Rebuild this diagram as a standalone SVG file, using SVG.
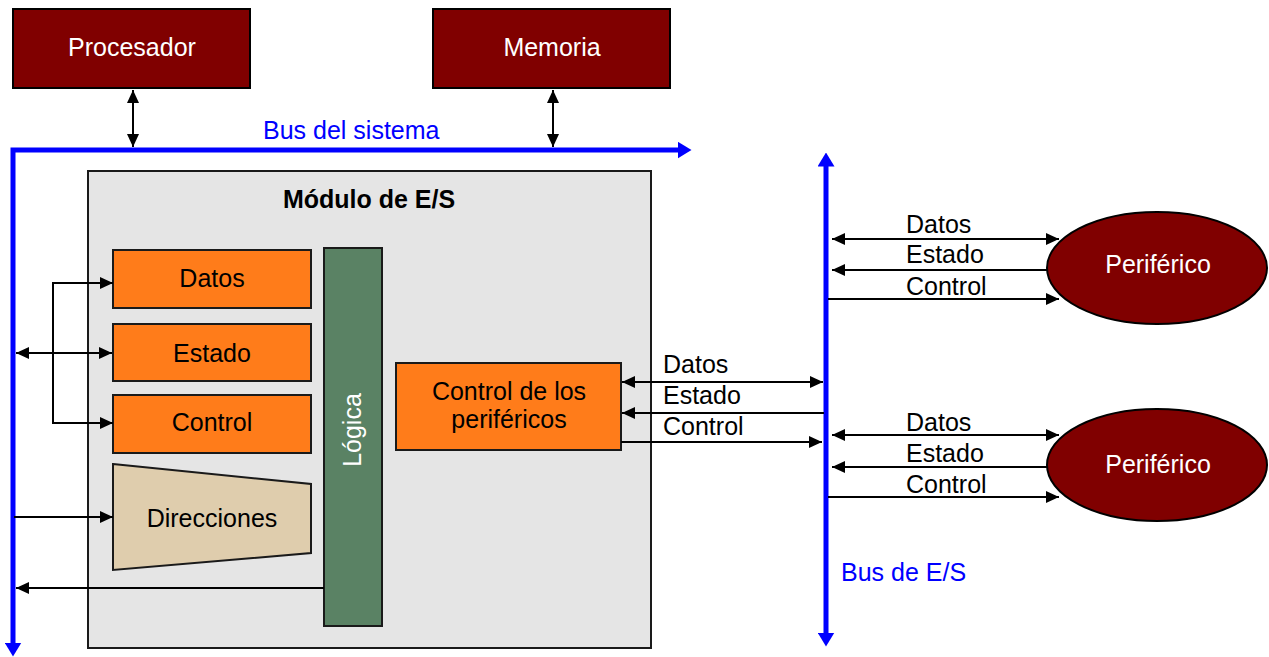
<svg xmlns="http://www.w3.org/2000/svg" width="1269" height="657" viewBox="0 0 1269 657">
<defs>
<style>
text{font-family:"Liberation Sans",Arial,sans-serif;font-size:25px;}
.c{text-anchor:middle;}
.w{fill:#ffffff;}
.k{fill:#000000;}
.b{fill:#0000ff;}
.dark{fill:#800000;stroke:#000;stroke-width:2;}
.org{fill:#ff7c1a;stroke:#1a1a1a;stroke-width:2;}
.ln{fill:none;stroke:#000;stroke-width:2;}
.bus{fill:none;stroke:#0000ff;stroke-width:5;stroke-linejoin:miter;}
</style>
<marker id="ah" markerUnits="userSpaceOnUse" markerWidth="13" markerHeight="12" viewBox="0 0 13 12" refX="13" refY="6" orient="auto-start-reverse">
<path d="M0,0 L13,6 L0,12 z" fill="#000"/>
</marker>
<marker id="bh" markerUnits="userSpaceOnUse" markerWidth="14" markerHeight="17" viewBox="0 0 14 17" refX="0.5" refY="8.5" orient="auto-start-reverse">
<path d="M0,0 L14,8.5 L0,17 z" fill="#0000ff"/>
</marker>
</defs>

<g id="procesador">
<rect class="dark" x="13" y="9" width="237" height="79"/>
<text class="c w" x="132" y="56">Procesador</text>
</g>
<g id="memoria">
<rect class="dark" x="433" y="9" width="237" height="79"/>
<text class="c w" x="552" y="56">Memoria</text>
</g>

<g id="modulo">
<rect x="88" y="171" width="563" height="477" fill="#e5e5e5" stroke="#1a1a1a" stroke-width="2"/>
<text class="c k" x="369" y="208" font-weight="bold">Módulo de E/S</text>
</g>

<g id="datos">
<rect class="org" x="113" y="250" width="198" height="58"/>
<text class="c k" x="212" y="287">Datos</text>
</g>
<g id="estado">
<rect class="org" x="113" y="324" width="198" height="57"/>
<text class="c k" x="212" y="362">Estado</text>
</g>
<g id="control">
<rect class="org" x="113" y="395" width="198" height="58"/>
<text class="c k" x="212" y="431">Control</text>
</g>
<g id="direcciones">
<polygon points="113,464 311,484 311,553 113,570" fill="#dfcdad" stroke="#1a1a1a" stroke-width="2"/>
<text class="c k" x="212" y="527">Direcciones</text>
</g>
<g id="logica">
<rect x="324" y="248" width="58" height="378" fill="#5a8264" stroke="#1a1a1a" stroke-width="2"/>
<text class="c w" x="361" y="430" transform="rotate(-90 361 430)">Lógica</text>
</g>
<g id="control-perifericos">
<rect class="org" x="396" y="363" width="225" height="87"/>
<text class="c k" x="509" y="400">Control de los</text>
<text class="c k" x="509" y="428">periféricos</text>
</g>

<g id="periferico1">
<ellipse cx="1157" cy="268" rx="110" ry="56" fill="#800000" stroke="#000" stroke-width="2"/>
<text class="c w" x="1158" y="273">Periférico</text>
</g>
<g id="periferico2">
<ellipse cx="1157" cy="465" rx="110" ry="56" fill="#800000" stroke="#000" stroke-width="2"/>
<text class="c w" x="1158" y="473">Periférico</text>
</g>

<g id="connectors">
<path class="bus" d="M13,643 V150 H678" marker-start="url(#bh)" marker-end="url(#bh)"/>
<path class="bus" d="M826,166 V633" marker-start="url(#bh)" marker-end="url(#bh)"/>
<text class="b" x="263" y="139">Bus del sistema</text>
<text class="b" x="841" y="581">Bus de E/S</text>

<path class="ln" d="M133,90 V147" marker-start="url(#ah)" marker-end="url(#ah)"/>
<path class="ln" d="M553,90 V147" marker-start="url(#ah)" marker-end="url(#ah)"/>

<path class="ln" d="M113,283 H53 V423 H113" marker-start="url(#ah)" marker-end="url(#ah)"/>
<path class="ln" d="M16,353 H112" marker-start="url(#ah)" marker-end="url(#ah)"/>
<path class="ln" d="M14,517 H113" marker-end="url(#ah)"/>
<path class="ln" d="M324,588 H16" marker-end="url(#ah)"/>

<path class="ln" d="M622,382 H823" marker-start="url(#ah)" marker-end="url(#ah)"/>
<path class="ln" d="M824,413 H622" marker-end="url(#ah)"/>
<path class="ln" d="M621,442 H822" marker-end="url(#ah)"/>
<text class="k" x="663" y="373">Datos</text>
<text class="k" x="663" y="404">Estado</text>
<text class="k" x="663" y="435">Control</text>

<path class="ln" d="M832,239 H1059" marker-start="url(#ah)" marker-end="url(#ah)"/>
<path class="ln" d="M1048,270 H832" marker-end="url(#ah)"/>
<path class="ln" d="M828,299 H1059" marker-end="url(#ah)"/>
<text class="k" x="906" y="233">Datos</text>
<text class="k" x="906" y="263">Estado</text>
<text class="k" x="906" y="295">Control</text>

<path class="ln" d="M832,435 H1059" marker-start="url(#ah)" marker-end="url(#ah)"/>
<path class="ln" d="M1048,467 H832" marker-end="url(#ah)"/>
<path class="ln" d="M828,497 H1059" marker-end="url(#ah)"/>
<text class="k" x="906" y="431">Datos</text>
<text class="k" x="906" y="462">Estado</text>
<text class="k" x="906" y="493">Control</text>
</g>
</svg>
